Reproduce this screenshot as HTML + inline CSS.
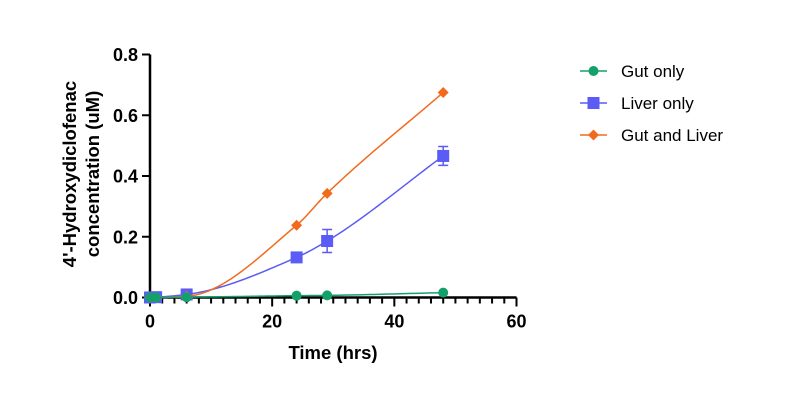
<!DOCTYPE html>
<html><head><meta charset="utf-8"><style>
body{margin:0;background:#fff;}
svg{display:block;font-family:"Liberation Sans",Arial,sans-serif;}
</style></head><body>
<svg id="chart" width="800" height="400">
<g id="axes"></g>
<g id="series"></g>
<g id="legend"></g>
<text x="333" y="359" text-anchor="middle" font-size="18.5" font-weight="bold">Time (hrs)</text>
<text transform="translate(80,174) rotate(-90)" text-anchor="middle" font-size="18.5" font-weight="bold"><tspan x="0" dy="-4">4'-Hydroxydiclofenac</tspan><tspan x="0" dy="23">concentration (uM)</tspan></text>
</svg>
<script>
const times = [0, 1, 6, 24, 29, 48];
const gutOnly = [0, 0, 0.001, 0.006, 0.007, 0.016];
const liverOnly = [0, 0.001, 0.01, 0.132, 0.186, 0.466];
const liverErr = [0, 0, 0, 0.005, 0.038, 0.031];
const gutLiver = [0, 0, 0.004, 0.238, 0.343, 0.675];
const xTicks = [0, 20, 40, 60];
const yTicks = [0, 0.2, 0.4, 0.6, 0.8];
const legendLabels = ["Gut only", "Liver only", "Gut and Liver"];

const NS = "http://www.w3.org/2000/svg";
const X0 = 150, X1 = 516.5, Y0 = 297.5, Y1 = 54.5;
const xs = v => X0 + (v / 60) * (X1 - X0);
const ys = v => Y0 - (v / 0.8) * (Y0 - Y1);
function mk(tag, attrs, parent) {
  const e = document.createElementNS(NS, tag);
  for (const k in attrs) e.setAttribute(k, attrs[k]);
  parent.appendChild(e);
  return e;
}
const axes = document.getElementById('axes');
let el = mk('line', {x1: X0, y1: Y0, x2: X1, y2: Y0, stroke: '#000', 'stroke-width': 2.5}, axes);


el = mk('line', {x1: X0, y1: Y0 + 1, x2: X0, y2: Y1, stroke: '#000', 'stroke-width': 2.5}, axes);


for (let t = 0; t <= 60; t += 2) {
  const major = t % 20 === 0;
  el = mk('line', {x1: xs(t), y1: Y0, x2: xs(t), y2: Y0 + (major ? 9 : 6), stroke: '#000', 'stroke-width': 2}, axes);
  
  
}
xTicks.forEach(t => {
  el = mk('text', {x: xs(t), y: Y0 + 30, 'text-anchor': 'middle', 'font-size': 18, 'font-weight': 'bold'}, axes);
  el.textContent = t;
  
  
});
yTicks.forEach(t => {
  el = mk('line', {x1: X0 - 8, y1: ys(t), x2: X0, y2: ys(t), stroke: '#000', 'stroke-width': 2}, axes);
  
  
  el = mk('text', {x: X0 - 12, y: ys(t) + 6.5, 'text-anchor': 'end', 'font-size': 18, 'font-weight': 'bold'}, axes);
  el.textContent = t.toFixed(1);
  
  
});

function monotonePath(xv, yv) {
  const n = xv.length, d = [], m = [];
  for (let i = 0; i < n - 1; i++) d.push((yv[i + 1] - yv[i]) / (xv[i + 1] - xv[i]));
  m[0] = d[0]; m[n - 1] = d[n - 2];
  for (let i = 1; i < n - 1; i++) {
    if (d[i - 1] * d[i] <= 0) m[i] = 0;
    else {
      const h0 = xv[i] - xv[i - 1], h1 = xv[i + 1] - xv[i];
      const w1 = 2 * h1 + h0, w2 = h1 + 2 * h0;
      m[i] = (w1 + w2) / (w1 / d[i - 1] + w2 / d[i]);
    }
  }
  let s = '';
  for (let i = 0; i < n - 1; i++) {
    const h = xv[i + 1] - xv[i];
    for (let k = 0; k <= 30; k++) {
      if (i > 0 && k === 0) continue;
      const t = k / 30, t2 = t * t, t3 = t2 * t;
      const y = (2 * t3 - 3 * t2 + 1) * yv[i] + (t3 - 2 * t2 + t) * h * m[i] + (-2 * t3 + 3 * t2) * yv[i + 1] + (t3 - t2) * h * m[i + 1];
      const x = xv[i] + t * h;
      s += (s ? 'L' : 'M') + xs(x).toFixed(2) + ',' + ys(y).toFixed(2);
    }
  }
  return s;
}
function marker(shape, cx, cy, color, g) {
  if (shape === 'circle') return mk('circle', {cx, cy, r: 5, fill: color}, g);
  if (shape === 'square') return mk('rect', {x: cx - 6, y: cy - 6, width: 12, height: 12, fill: color}, g);
  return mk('polygon', {points: `${cx},${cy - 5.5} ${cx + 5.5},${cy} ${cx},${cy + 5.5} ${cx - 5.5},${cy}`, fill: color}, g);
}
const seriesG = document.getElementById('series');
const defs = [
  {vals: liverOnly, color: '#5b5bf5', shape: 'square', name: 'liver-only', err: liverErr},
  {vals: gutLiver, color: '#f26b1d', shape: 'diamond', name: 'gut-and-liver'},
  {vals: gutOnly, color: '#14a06b', shape: 'circle', name: 'gut-only'}
];
defs.forEach(s => {
  const g = mk('g', {}, seriesG);
  
  
  el = mk('path', {d: monotonePath(times, s.vals), fill: 'none', stroke: s.color, 'stroke-width': 1.5}, g);
  
  
  times.forEach((t, i) => {
    if (s.err && s.err[i] > 0.01) {
      const x = xs(t), a = ys(s.vals[i] + s.err[i]), b = ys(s.vals[i] - s.err[i]);
      el = mk('path', {d: `M${x},${a}V${b}M${x - 5},${a}H${x + 5}M${x - 5},${b}H${x + 5}`, stroke: s.color, 'stroke-width': 1.5, fill: 'none'}, g);
      
      
    }
    el = marker(s.shape, xs(t), ys(s.vals[i]), s.color, g);
    
    
  });
});
const legendG = document.getElementById('legend');
const legColors = ['#14a06b', '#5b5bf5', '#f26b1d'];
const legShapes = ['circle', 'square', 'diamond'];
const legY = [71, 103, 135];
legendLabels.forEach((lab, i) => {
  const g = mk('g', {}, legendG);
  
  
  mk('line', {x1: 580, y1: legY[i], x2: 607, y2: legY[i], stroke: legColors[i], 'stroke-width': 1.5}, g);
  marker(legShapes[i], 593.5, legY[i], legColors[i], g);
  el = mk('text', {x: 621, y: legY[i] + 6, 'font-size': 17}, g);
  el.textContent = lab;
  
  
});
</script>
</body></html>
